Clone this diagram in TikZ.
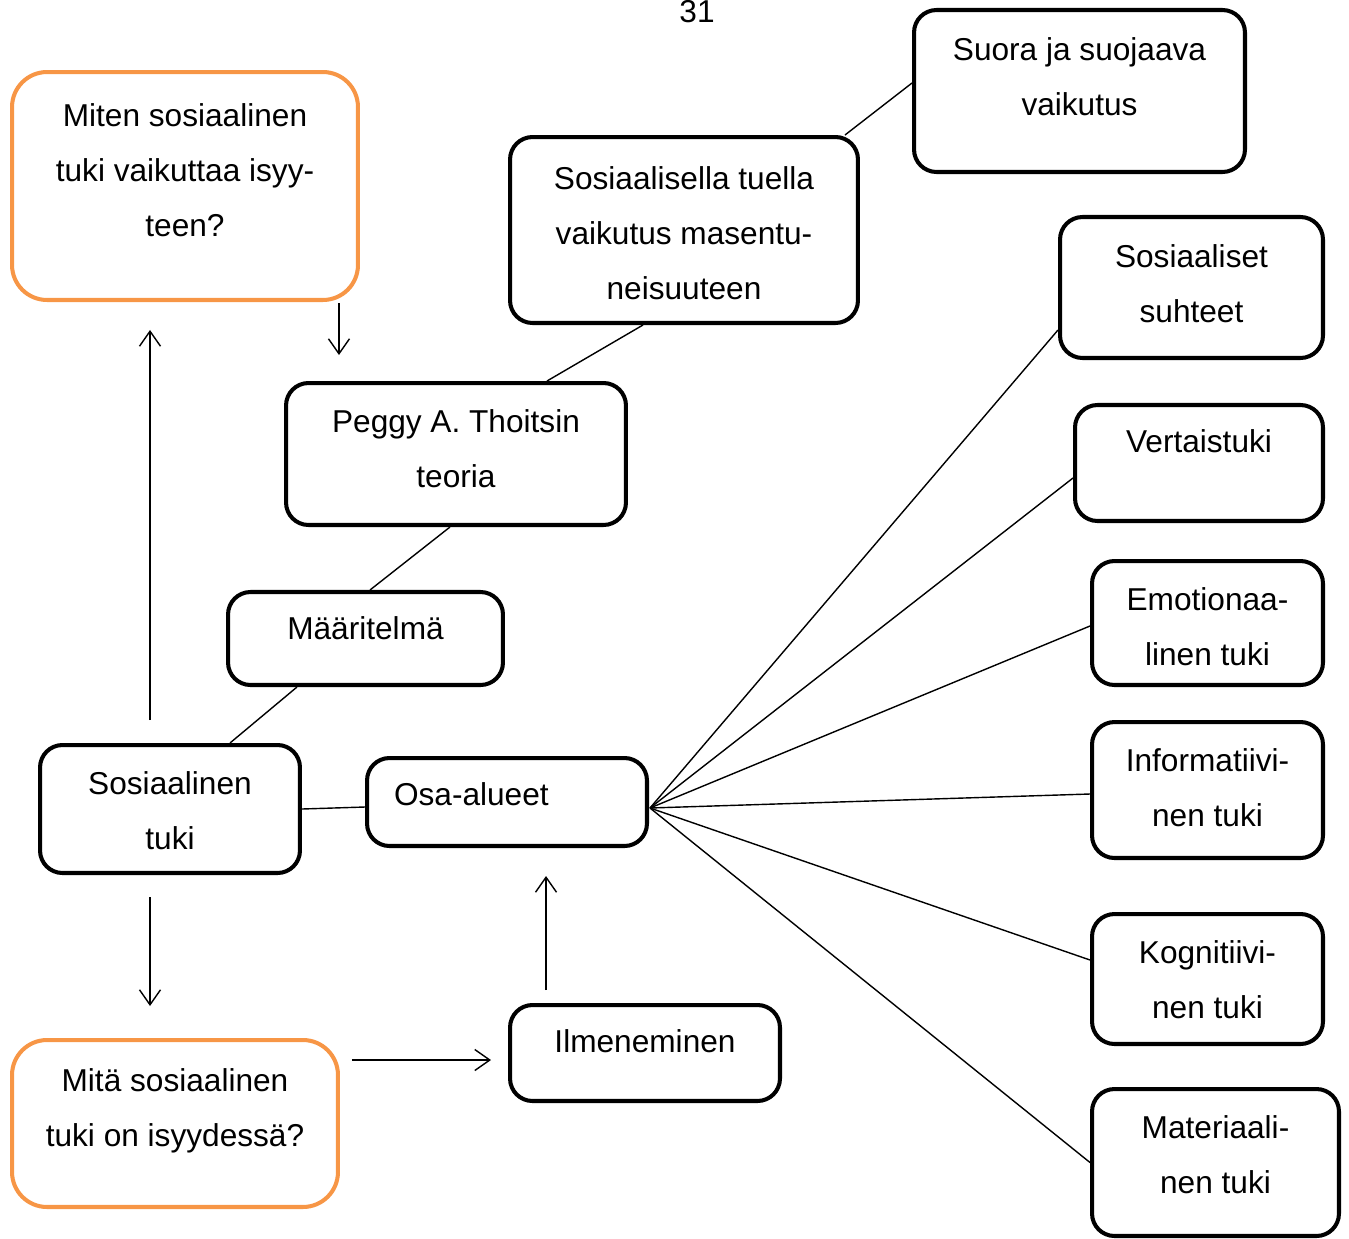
\documentclass[tikz,border=0pt]{standalone}
\usepackage{fontspec}
\setmainfont{Liberation Sans}
\usepackage{tikz}
\usetikzlibrary{arrows.meta, calc}
\definecolor{kysymys}{RGB}{247,150,70}
\tikzstyle{block} = [rectangle, draw, line width=2.3pt, rounded corners=0.45cm, inner sep=0pt, align=center, text height=0.46cm, text depth=0pt, font=\fontsize{18}{31.3}\selectfont]
\tikzstyle{question} = [block, draw=kysymys, rounded corners=0.7cm]
\tikzstyle{connector} = [draw, line width=0.8pt]
\tikzstyle{arrow} = [connector, -{Straight Barb[length=0.3cm, width=0.42cm]}]

\begin{document}
\begin{tikzpicture}[x=0.02cm, y=-0.02cm]
\useasboundingbox (0,0) rectangle (1349,1238);

\node[inner sep=0pt, text height=0.46cm, text depth=0pt, font=\fontsize{18}{31.3}\selectfont] at (697,11) (page) {31};

\node [question, minimum width=6.92cm, minimum height=4.56cm, text height=2.02cm] at (185,186) (block_miten) {Miten sosiaalinen\\tuki vaikuttaa isyy-\\teen?};
\node [question, minimum width=6.52cm, minimum height=3.34cm, text height=0.92cm] at (175,1123.5) (block_mita) {Mitä sosiaalinen\\tuki on isyydessä?};

\node [block, minimum width=6.62cm, minimum height=3.24cm, text height=0.98cm] at (1079.5,91) (block_suora) {Suora ja suojaava\\vaikutus};
\node [block, minimum width=6.96cm, minimum height=3.72cm, text height=2.78cm] at (684,230) (block_masennus) {Sosiaalisella tuella\\vaikutus masentu-\\neisuuteen};
\node [block, minimum width=6.8cm, minimum height=2.84cm, text height=1.34cm] at (456,454) (block_teoria) {Peggy A. Thoitsin\\teoria};
\node [block, minimum width=5.5cm, minimum height=1.86cm, text depth=0.42cm] at (365.5,638.5) (block_maaritelma) {Määritelmä};
\node [block, minimum width=5.2cm, minimum height=2.56cm, text height=1.62cm] at (170,809) (block_tuki) {Sosiaalinen\\tuki};
\node [block, minimum width=5.6cm, minimum height=1.76cm, text depth=0.32cm, text width=4.52cm, inner xsep=0.54cm, align=left] at (507,802) (block_osa) {Osa-alueet};
\node [block, minimum width=5.4cm, minimum height=1.92cm, text depth=0.48cm] at (645,1053) (block_ilmeneminen) {Ilmeneminen};

\node [block, minimum width=5.26cm, minimum height=2.82cm, text height=1.4cm] at (1191.5,287.5) (block_suhteet) {Sosiaaliset\\suhteet};
\node [block, minimum width=4.96cm, minimum height=2.32cm, text depth=0.88cm] at (1199,463) (block_vertais) {Vertaistuki};
\node [block, minimum width=4.62cm, minimum height=2.48cm, text height=1.7cm] at (1207.5,623) (block_emotio) {Emotionaa-\\linen tuki};
\node [block, minimum width=4.62cm, minimum height=2.72cm, text height=1.46cm] at (1207.5,790) (block_info) {Informatiivi-\\nen tuki};
\node [block, minimum width=4.62cm, minimum height=2.6cm, text height=1.58cm] at (1207.5,979) (block_kogn) {Kognitiivi-\\nen tuki};
\node [block, minimum width=4.94cm, minimum height=2.94cm, text height=1.24cm] at (1215.5,1162.5) (block_materia) {Materiaali-\\nen tuki};

\path [connector] ($(block_suora.west)+(0,-8)$) -- ($(block_masennus.north east)+(-15,0)$);
\path [connector] ($(block_masennus.south)+(-41,0)$) -- ($(block_teoria.north)+(91,0)$);
\path [connector] ($(block_teoria.south)+(-6,0)$) -- ($(block_maaritelma.north)+(4.5,0)$);
\path [connector] ($(block_maaritelma.south)+(-68.5,0)$) -- ($(block_tuki.north)+(60,0)$);
\path [connector] (block_tuki.east) -- ($(block_osa.west)+(0,5)$);

\coordinate (hub) at ($(block_osa.east)+(1,6)$);
\path [connector] (hub) -- ($(block_suhteet.west)+(0,42.5)$);
\path [connector] (hub) -- ($(block_vertais.west)+(0,15)$);
\path [connector] (hub) -- ($(block_emotio.west)+(0,3)$);
\path [connector] (hub) -- ($(block_info.west)+(0,4)$);
\path [connector] (hub) -- ($(block_kogn.west)+(0,-19)$);
\path [connector] (hub) -- (block_materia.west);

\path [arrow, shorten <=0.02cm, shorten >=0.52cm] ([xshift=3.08cm]block_miten.south) -- ([xshift=3.08cm]block_miten.south |- block_teoria.north);
\path [arrow, shorten <=0.46cm, shorten >=0.56cm] ([xshift=-0.4cm]block_tuki.north) -- ([xshift=-0.4cm]block_tuki.north |- block_miten.south);
\path [arrow, shorten <=0.44cm, shorten >=0.64cm] ([xshift=-0.4cm]block_tuki.south) -- ([xshift=-0.4cm]block_tuki.south |- block_mita.north);
\path [arrow, shorten <=0.24cm, shorten >=0.34cm] ([yshift=1.27cm]block_mita.east) -- ([yshift=1.27cm]block_mita.east -| block_ilmeneminen.west);
\path [arrow, shorten <=0.26cm, shorten >=0.56cm] ([xshift=-1.98cm]block_ilmeneminen.north) -- ([xshift=-1.98cm]block_ilmeneminen.north |- block_osa.south);

\end{tikzpicture}
\end{document}
